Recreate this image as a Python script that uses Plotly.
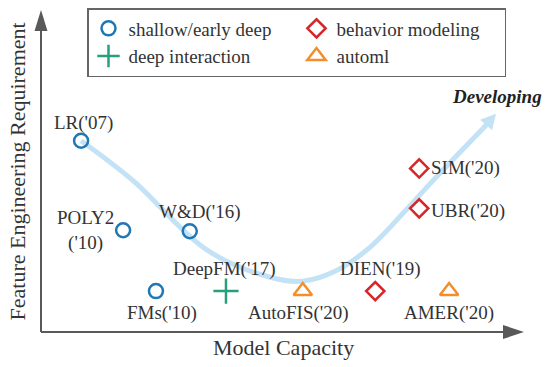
import math
import plotly.graph_objects as go

# ---------------- data ----------------
series_names = ["shallow/early deep", "behavior modeling", "deep interaction", "automl"]

shallow_labels = ["LR('07)", "POLY2<br>('10)", "W&D('16)", "FMs('10)"]
shallow_x = [8.3, 17.0, 30.8, 23.8]
shallow_y = [59.4, 31.6, 31.3, 12.7]

behavior_labels = ["DIEN('19)", "SIM('20)", "UBR('20)"]
behavior_x = [69.2, 78.3, 78.3]
behavior_y = [12.7, 50.8, 38.4]

deep_labels = ["DeepFM('17)"]
deep_x = [38.3]
deep_y = [12.7]

automl_labels = ["AutoFIS('20)", "AMER('20)"]
automl_x = [54.2, 84.5]
automl_y = [12.7, 12.7]

# trend curve (sketch)
curve_x = [8.3, 19.0, 34.4, 47.4, 54.2, 61.3, 68.1, 74.9, 81.2, 91.5]
curve_y = [59.4, 47.1, 25.4, 17.0, 15.8, 19.2, 26.3, 36.8, 47.1, 63.2]
curve_tip = (94.2, 67.8)

# ---------------- styles ----------------
FONT = "Liberation Serif, Tinos, Times New Roman, DejaVu Serif, serif"
TXT = "#333333"
AX = "#595959"
BLUE, GREEN, RED, ORANGE = "#1f77b4", "#279e7c", "#d62728", "#f28e2b"
CURVE = "#c4e2f6"

# label placement (pixel offsets from the marker) keyed by label
label_pos = {
    "LR('07)": (2, 18, "center"),
    "POLY2<br>('10)": (-38, 0, "center"),
    "W&D('16)": (10, 19, "center"),
    "FMs('10)": (6, -22, "center"),
    "DeepFM('17)": (-1, 22, "center"),
    "AutoFIS('20)": (-4, -22, "center"),
    "DIEN('19)": (5, 22, "center"),
    "AMER('20)": (0, -22, "center"),
    "SIM('20)": (10, 0, "left"),
    "UBR('20)": (10, -3, "left"),
}

W, H = 548, 367
ML, MR, MT, MB = 41, 24, 9, 35
PW, PH = W - ML - MR, H - MT - MB

fig = go.Figure()

# curve
fig.add_trace(go.Scatter(x=curve_x, y=curve_y, mode="lines",
                         line=dict(color=CURVE, width=5, shape="spline", smoothing=1.0),
                         showlegend=False, hoverinfo="skip"))

fig.add_trace(go.Scatter(x=shallow_x, y=shallow_y, mode="markers", name=series_names[0],
                         marker=dict(symbol="circle-open", size=14, color=BLUE, line=dict(width=2.5)),
                         cliponaxis=False))
fig.add_trace(go.Scatter(x=behavior_x, y=behavior_y, mode="markers", name=series_names[1],
                         marker=dict(symbol="diamond-open", size=14, color=RED, line=dict(width=2.5)),
                         cliponaxis=False))
fig.add_trace(go.Scatter(x=deep_x, y=deep_y, mode="markers", name=series_names[2],
                         marker=dict(symbol="cross-thin-open", size=18, color=GREEN, line=dict(width=2.5, color=GREEN)),
                         cliponaxis=False))
fig.add_trace(go.Scatter(x=automl_x, y=automl_y, mode="markers", name=series_names[3],
                         marker=dict(symbol="triangle-up-open", size=16, color=ORANGE, line=dict(width=2.5)),
                         cliponaxis=False))

# point labels
for labels, xs, ys in [(shallow_labels, shallow_x, shallow_y), (behavior_labels, behavior_x, behavior_y),
                       (deep_labels, deep_x, deep_y), (automl_labels, automl_x, automl_y)]:
    for t, x, y in zip(labels, xs, ys):
        dx, dy, anc = label_pos[t]
        fig.add_annotation(x=x, y=y, text=t, showarrow=False, xanchor=anc, yanchor="middle",
                           xshift=dx, yshift=dy, font=dict(family=FONT, size=19, color=TXT))

# curve arrowhead
dxp = (curve_tip[0] - curve_x[-1]) * PW / 100
dyp = (curve_tip[1] - curve_y[-1]) * PH / 100
n = math.hypot(dxp, dyp)
ux, uy = dxp / n, dyp / n
px_, py_ = -uy, ux
L, hw = 15, 8
bx, by = -L * ux, -L * uy
fig.add_shape(type="path", xref="x", yref="y", xsizemode="pixel", ysizemode="pixel",
              xanchor=curve_tip[0], yanchor=curve_tip[1],
              path=f"M0,0 L{bx + hw * px_:.2f},{by + hw * py_:.2f} L{bx - hw * px_:.2f},{by - hw * py_:.2f} Z",
              fillcolor=CURVE, line=dict(width=0))
# short shaft from curve end to arrowhead base
fig.add_trace(go.Scatter(x=[curve_x[-1], curve_tip[0] - (curve_tip[0] - curve_x[-1]) * L / n * 0.9],
                         y=[curve_y[-1], curve_tip[1] - (curve_tip[1] - curve_y[-1]) * L / n * 0.9],
                         mode="lines", line=dict(color=CURVE, width=5), showlegend=False, hoverinfo="skip"))

fig.add_annotation(x=curve_tip[0] + 0.3, y=curve_tip[1] + 5.2, text="<b><i>Developing</i></b>", showarrow=False,
                   xanchor="center", yanchor="middle", font=dict(family=FONT, size=19, color="#222222"))

# axes with arrows
fig.add_shape(type="line", xref="paper", yref="paper", x0=0, y0=0, x1=0, y1=1 - 20 / PH,
              line=dict(color=AX, width=2))
fig.add_shape(type="line", xref="paper", yref="paper", x0=0, y0=0, x1=1 - 19 / PW, y1=0,
              line=dict(color=AX, width=2))
fig.add_shape(type="path", xref="paper", yref="paper", xsizemode="pixel", ysizemode="pixel",
              xanchor=0, yanchor=1, path="M0,0 L-6.5,-21 L6.5,-21 Z", fillcolor=AX, line=dict(width=0))
fig.add_shape(type="path", xref="paper", yref="paper", xsizemode="pixel", ysizemode="pixel",
              xanchor=1, yanchor=0, path="M0,0 L-21,7 L-21,-7 Z", fillcolor=AX, line=dict(width=0))

fig.add_annotation(xref="paper", yref="paper", x=(283 - ML) / PW, y=-16 / PH, text="Model Capacity",
                   showarrow=False, xanchor="center", yanchor="middle",
                   font=dict(family=FONT, size=22, color=TXT))
fig.add_annotation(xref="paper", yref="paper", x=-24 / PW, y=(H - MB - 171) / PH,
                   text="Feature Engineering Requirement", textangle=-90,
                   showarrow=False, xanchor="center", yanchor="middle",
                   font=dict(family=FONT, size=22, color=TXT))

fig.update_layout(
    width=W, height=H, margin=dict(l=ML, r=MR, t=MT, b=MB),
    paper_bgcolor="white", plot_bgcolor="white",
    xaxis=dict(range=[0, 100], visible=False, fixedrange=True),
    yaxis=dict(range=[0, 100], visible=False, fixedrange=True),
    showlegend=True,
    legend=dict(orientation="h", x=(87 - ML) / PW, y=(H - MB - 8) / PH, xanchor="left", yanchor="top",
                bordercolor="#666666", borderwidth=1.5, bgcolor="white",
                entrywidth=163, entrywidthmode="pixels", itemwidth=30,
                font=dict(family=FONT, size=19, color=TXT), traceorder="normal"),
    font=dict(family=FONT, color=TXT),
    hovermode=False,
)

fig.write_html("out.html", config={"displayModeBar": False, "staticPlot": True},
               post_script="document.body.style.margin='0';document.body.style.padding='0';")
